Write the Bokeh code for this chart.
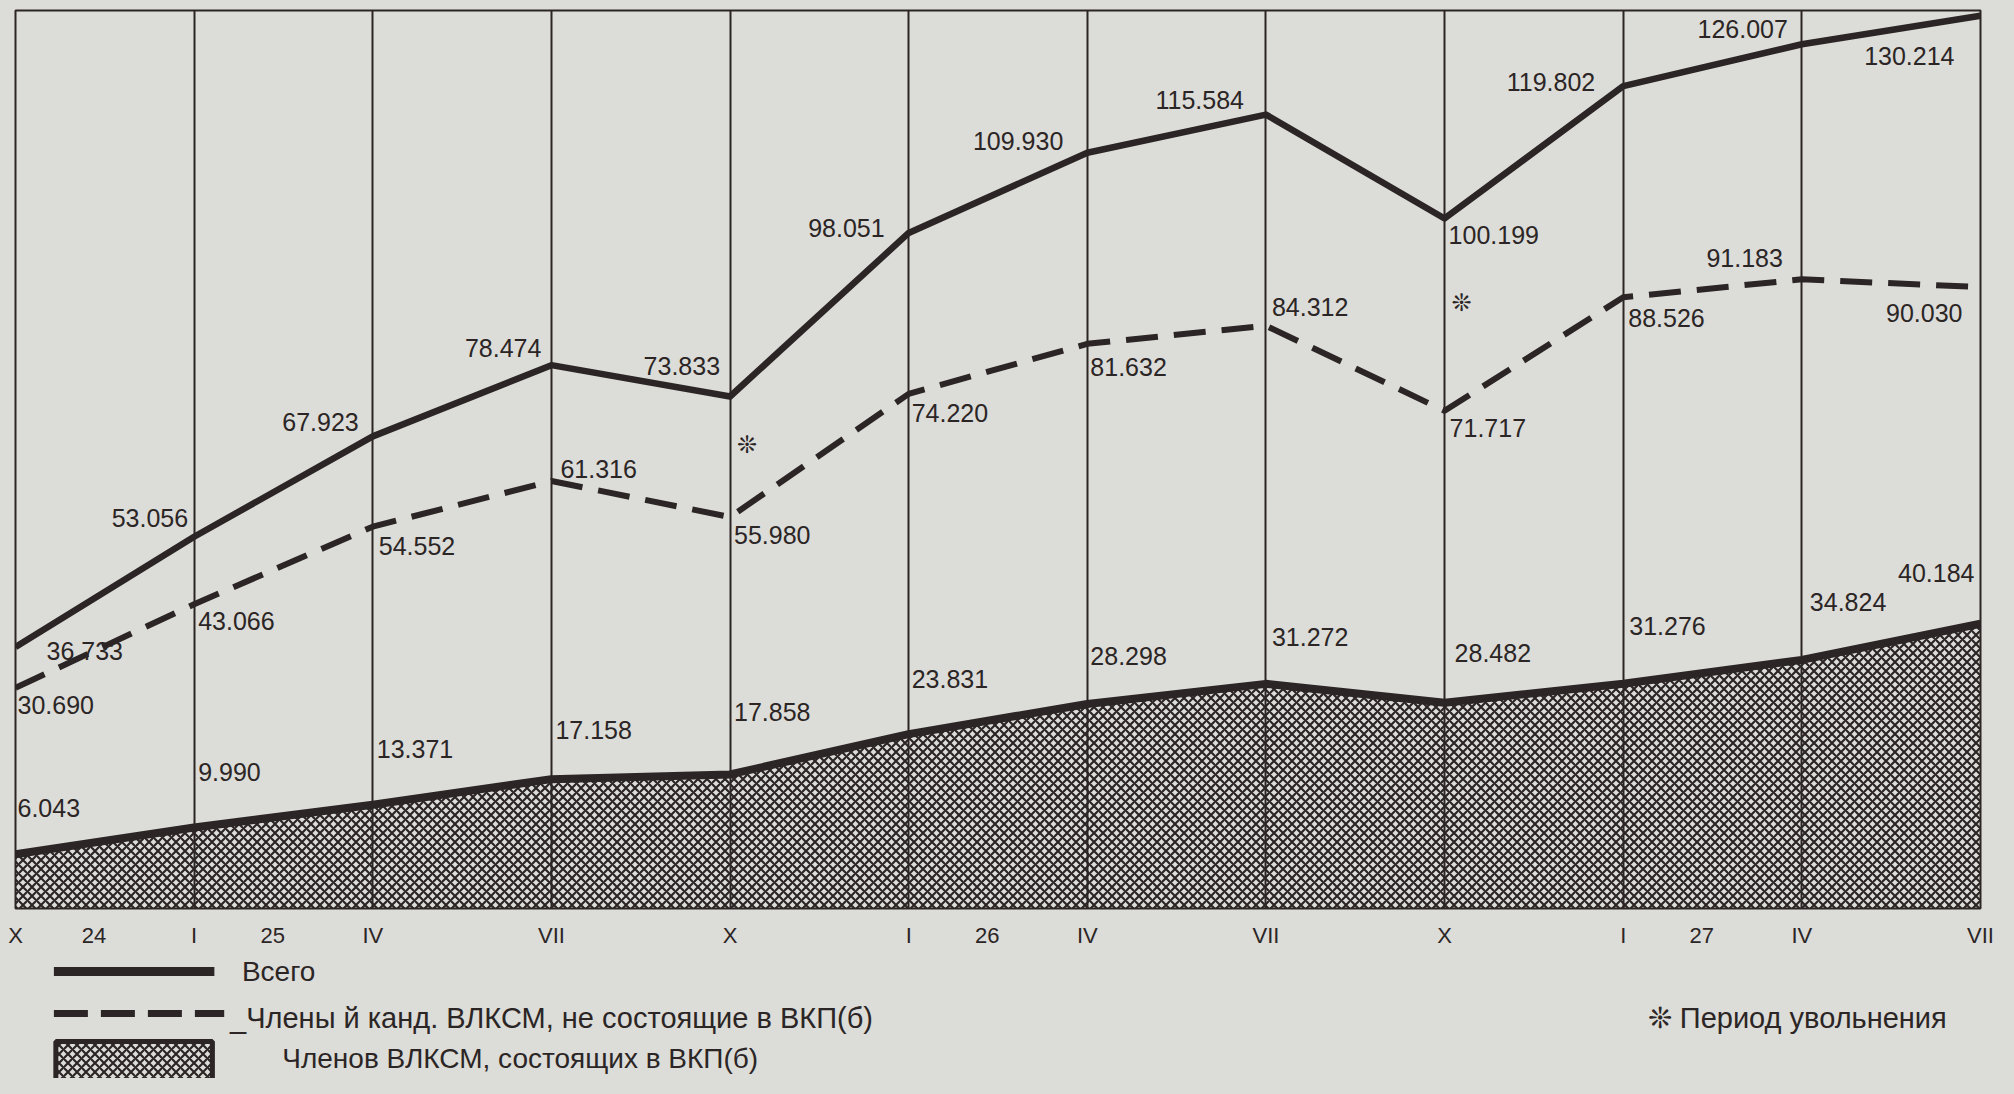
from bokeh.plotting import figure
from bokeh.models import Range1d, FixedTicker, ColumnDataSource
from bokeh.layouts import column
from bokeh.embed import file_html
from bokeh.resources import INLINE
from bokeh.core.properties import value

# ---------------- data ----------------
periods = ["X 1924", "I 1925", "IV 1925", "VII 1925", "X 1925", "I 1926",
           "IV 1926", "VII 1926", "X 1926", "I 1927", "IV 1927", "VII 1927"]
month_labels = ["X", "I", "IV", "VII", "X", "I", "IV", "VII", "X", "I", "IV", "VII"]
year_labels = ["24", "25", "26", "27"]
year_after_period = [0, 1, 5, 9]          # year label sits after this period

total = [36.733, 53.056, 67.923, 78.474, 73.833, 98.051,
         109.930, 115.584, 100.199, 119.802, 126.007, 130.214]
non_party = [30.690, 43.066, 54.552, 61.316, 55.980, 74.220,
             81.632, 84.312, 71.717, 88.526, 91.183, 90.030]
party = [6.043, 9.990, 13.371, 17.158, 17.858, 23.831,
         28.298, 31.272, 28.482, 31.276, 34.824, 40.184]
discharge_periods = [4, 8]                # "Период увольнения"

legend_total = "Всего"
legend_non_party = "Члены й канд. ВЛКСМ, не состоящие в ВКП(б)"
legend_party = "Членов ВЛКСМ, состоящих в ВКП(б)"
legend_discharge = "❊ Период увольнения"

# ---------------- style ----------------
PAPER = "#dcdcd8"
INK = "#2b2525"
FONT = "Liberation Sans"
FLOOR = -2.0
X = list(range(len(periods)))

# label placement (screen pixels)
tot_align = ["left"] + ["right"] * 7 + ["left"] + ["right"] * 3
tot_dx = [31, -6, -14, -10, -10, -24, -24, -22, 4, -28, -14, -26]
tot_dy = [4, -19, -14, -17, -30, -5, -12, -15, 17, -4, -15, 40]
np_align = ["left"] * 10 + ["right"] * 2
np_dx = [2, 4, 6, 9, 4, 3, 3, 6, 5, 5, -19, -18]
np_dy = [17, 17, 19, -12, 18, 19, 23, -19, 17, 21, -21, 26]
pa_align = ["left"] * 11 + ["right"]
pa_dx = [2, 4, 4, 4, 4, 3, 3, 6, 10, 6, 8, -6]
pa_dy = [-46, -56, -56, -49, -62, -55, -48, -47, -50, -58, -58, -51]

W = 1996
p = figure(width=W, height=950, x_range=Range1d(0, len(X) - 1),
           y_range=Range1d(FLOOR, 131), toolbar_location=None,
           output_backend="svg", title=None, y_axis_location=None,
           min_border_left=15, min_border_right=16, min_border_top=10,
           min_border_bottom=40, background_fill_color=PAPER,
           border_fill_color=PAPER, outline_line_color=INK,
           outline_line_width=2)

# vertical period lines
p.ygrid.visible = False
p.xgrid.ticker = FixedTicker(ticks=X)
p.xgrid.grid_line_color = INK
p.xgrid.grid_line_width = 2
p.xgrid.grid_line_alpha = 1

# axis with month / year labels
ticks = list(X) + [i + 0.44 for i in year_after_period]
overrides = {i: m for i, m in zip(X, month_labels)}
for i, y in zip(year_after_period, year_labels):
    overrides[i + 0.44] = y
ax = p.xaxis[0]
ax.ticker = FixedTicker(ticks=ticks)
ax.major_label_overrides = overrides
ax.axis_line_color = None
ax.major_tick_line_color = None
ax.minor_tick_line_color = None
ax.major_label_standoff = 8
ax.major_label_text_font = FONT
ax.major_label_text_font_size = "22px"
ax.major_label_text_color = INK

# hatched area: members of the party
p.varea(x=X, y1=[FLOOR] * len(X), y2=party, fill_alpha=0,
        hatch_pattern="x", hatch_color=INK, hatch_scale=9, hatch_weight=2.2)
p.line(X, party, line_width=8, line_color=INK, line_join="round")
# non-party members: dashed
p.line(X, non_party, line_width=6, line_color=INK, line_dash="32 16",
       line_join="round")
# total
p.line(X, total, line_width=6.5, line_color=INK, line_join="round")


def add_labels(vals, align, dx, dy):
    src = ColumnDataSource(dict(x=X, y=vals, text=[f"{v:.3f}" for v in vals],
                                align=align, dx=dx, dy=dy))
    p.text(x="x", y="y", text="text", source=src, x_offset="dx", y_offset="dy",
           text_align="align", text_baseline="middle",
           text_font=value(FONT), text_font_size="25px", text_color=INK)


add_labels(total, tot_align, tot_dx, tot_dy)
add_labels(non_party, np_align, np_dx, np_dy)
add_labels(party, pa_align, pa_dx, pa_dy)

# discharge period marks
mark_y = [(total[i] + non_party[i]) / 2 for i in discharge_periods]
p.text(x=discharge_periods, y=mark_y, text=["❊"] * len(discharge_periods),
       x_offset=17, y_offset=-12, text_align="center", text_baseline="middle",
       text_font=value("DejaVu Sans"), text_font_size="24px", text_color=INK)

# ---------------- legend panel ----------------
H2 = 128
lg = figure(width=W, height=H2, x_range=Range1d(0, W), y_range=Range1d(H2, 0),
            toolbar_location=None, output_backend="svg", title=None,
            x_axis_location=None, y_axis_location=None, min_border=0,
            background_fill_color=PAPER, border_fill_color=PAPER,
            outline_line_color=None)
lg.xgrid.visible = False
lg.ygrid.visible = False

lg.line([39, 202], [21, 21], line_width=9, line_color=INK)
lg.line([39, 212], [63, 63], line_width=7, line_color=INK, line_dash="34 13")
lg.quad(left=[41], right=[200], top=[91], bottom=[140], fill_alpha=0,
        line_color=INK, line_width=5, hatch_pattern="x", hatch_color=INK,
        hatch_scale=9, hatch_weight=2.2)
lg.text(x=[230, 218, 271], y=[21, 67, 108],
        text=[legend_total, "_" + legend_non_party, legend_party],
        text_baseline="middle", text_font=value(FONT),
        text_font_size=["28px", "29px", "28px"], text_color=INK)
lg.text(x=[1658], y=[67], text=[legend_discharge], text_baseline="middle",
        text_font=value(FONT), text_font_size="29px", text_color=INK)

layout = column(p, lg, spacing=0)
html = file_html(layout, INLINE)
html = html.replace("<body>", '<body style="background:%s">' % PAPER)
open("out.html", "w").write(html)
